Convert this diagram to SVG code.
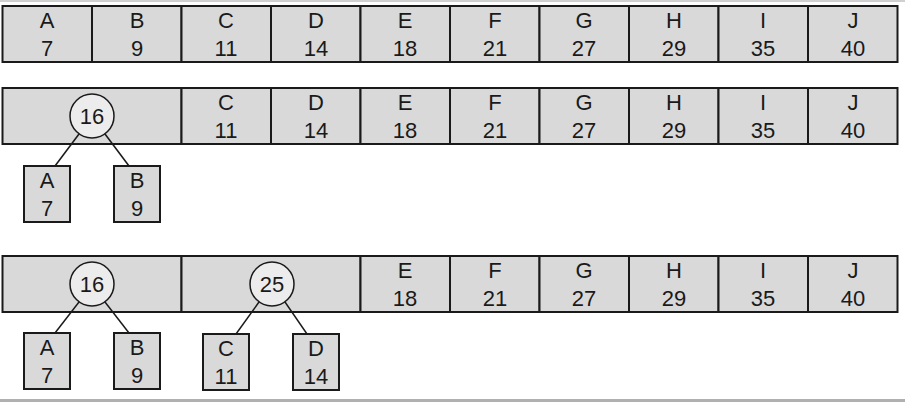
<svg xmlns="http://www.w3.org/2000/svg" width="905" height="402" viewBox="0 0 905 402">
<style>
.c{fill:#d9d9d9;stroke:#1a1a1a;stroke-width:2}
.o{fill:#ececec;stroke:#1a1a1a;stroke-width:1.5}
text{font-family:"Liberation Sans",Arial,sans-serif;font-size:22px;fill:#1a1a1a;text-anchor:middle}
.l{stroke:#1a1a1a;stroke-width:1.5}
</style>
<rect x="0" y="0" width="905" height="2" fill="#d0d0d0"/>
<rect x="0" y="399" width="905" height="3" fill="#b0b0b0"/>
<g id="row1">
<rect class="c" x="2.5" y="6" width="89.5" height="56"/><text x="47" y="28">A</text><text x="47" y="56">7</text>
<rect class="c" x="92" y="6" width="89.5" height="56"/><text x="137" y="28">B</text><text x="137" y="56">9</text>
<rect class="c" x="181.5" y="6" width="89.5" height="56"/><text x="226" y="28">C</text><text x="226" y="56">11</text>
<rect class="c" x="271" y="6" width="89.5" height="56"/><text x="316" y="28">D</text><text x="316" y="56">14</text>
<rect class="c" x="360.5" y="6" width="89.5" height="56"/><text x="405" y="28">E</text><text x="405" y="56">18</text>
<rect class="c" x="450" y="6" width="89.5" height="56"/><text x="495" y="28">F</text><text x="495" y="56">21</text>
<rect class="c" x="539.5" y="6" width="89.5" height="56"/><text x="584" y="28">G</text><text x="584" y="56">27</text>
<rect class="c" x="629" y="6" width="89.5" height="56"/><text x="674" y="28">H</text><text x="674" y="56">29</text>
<rect class="c" x="718.5" y="6" width="89.5" height="56"/><text x="763" y="28">I</text><text x="763" y="56">35</text>
<rect class="c" x="808" y="6" width="89.5" height="56"/><text x="853" y="28">J</text><text x="853" y="56">40</text>
</g>
<g id="row2">
<rect class="c" x="2.5" y="88" width="179" height="56"/>
<rect class="c" x="181.5" y="88" width="89.5" height="56"/><text x="226" y="110">C</text><text x="226" y="138">11</text>
<rect class="c" x="271" y="88" width="89.5" height="56"/><text x="316" y="110">D</text><text x="316" y="138">14</text>
<rect class="c" x="360.5" y="88" width="89.5" height="56"/><text x="405" y="110">E</text><text x="405" y="138">18</text>
<rect class="c" x="450" y="88" width="89.5" height="56"/><text x="495" y="110">F</text><text x="495" y="138">21</text>
<rect class="c" x="539.5" y="88" width="89.5" height="56"/><text x="584" y="110">G</text><text x="584" y="138">27</text>
<rect class="c" x="629" y="88" width="89.5" height="56"/><text x="674" y="110">H</text><text x="674" y="138">29</text>
<rect class="c" x="718.5" y="88" width="89.5" height="56"/><text x="763" y="110">I</text><text x="763" y="138">35</text>
<rect class="c" x="808" y="88" width="89.5" height="56"/><text x="853" y="110">J</text><text x="853" y="138">40</text>
<circle class="o" cx="92" cy="116" r="22"/><text x="92" y="124">16</text>
<rect class="c" x="24" y="166" width="46" height="56"/><text x="47" y="188">A</text><text x="47" y="216">7</text>
<rect class="c" x="114" y="166" width="46" height="56"/><text x="137" y="188">B</text><text x="137" y="216">9</text>
</g>
<g id="row3">
<rect class="c" x="2.5" y="256" width="179" height="56"/>
<rect class="c" x="181.5" y="256" width="179" height="56"/>
<rect class="c" x="360.5" y="256" width="89.5" height="56"/><text x="405" y="278">E</text><text x="405" y="306">18</text>
<rect class="c" x="450" y="256" width="89.5" height="56"/><text x="495" y="278">F</text><text x="495" y="306">21</text>
<rect class="c" x="539.5" y="256" width="89.5" height="56"/><text x="584" y="278">G</text><text x="584" y="306">27</text>
<rect class="c" x="629" y="256" width="89.5" height="56"/><text x="674" y="278">H</text><text x="674" y="306">29</text>
<rect class="c" x="718.5" y="256" width="89.5" height="56"/><text x="763" y="278">I</text><text x="763" y="306">35</text>
<rect class="c" x="808" y="256" width="89.5" height="56"/><text x="853" y="278">J</text><text x="853" y="306">40</text>
<circle class="o" cx="92" cy="284" r="22"/><text x="92" y="292">16</text>
<circle class="o" cx="272" cy="284" r="22"/><text x="272" y="292">25</text>
<rect class="c" x="24" y="333" width="46" height="56"/><text x="47" y="355">A</text><text x="47" y="383">7</text>
<rect class="c" x="114" y="333" width="46" height="56"/><text x="137" y="355">B</text><text x="137" y="383">9</text>
<rect class="c" x="203" y="334" width="46" height="56"/><text x="226" y="356">C</text><text x="226" y="384">11</text>
<rect class="c" x="293" y="334" width="46" height="56"/><text x="316" y="356">D</text><text x="316" y="384">14</text>
</g>
<g id="connectors">
<line class="l" x1="79" y1="134" x2="55" y2="166"/><line class="l" x1="105" y1="134" x2="129" y2="166"/>
<line class="l" x1="79" y1="302" x2="55" y2="333"/><line class="l" x1="105" y1="302" x2="129" y2="333"/>
<line class="l" x1="259" y1="302" x2="236" y2="334"/><line class="l" x1="285" y1="302" x2="307" y2="334"/>
</g>
</svg>
